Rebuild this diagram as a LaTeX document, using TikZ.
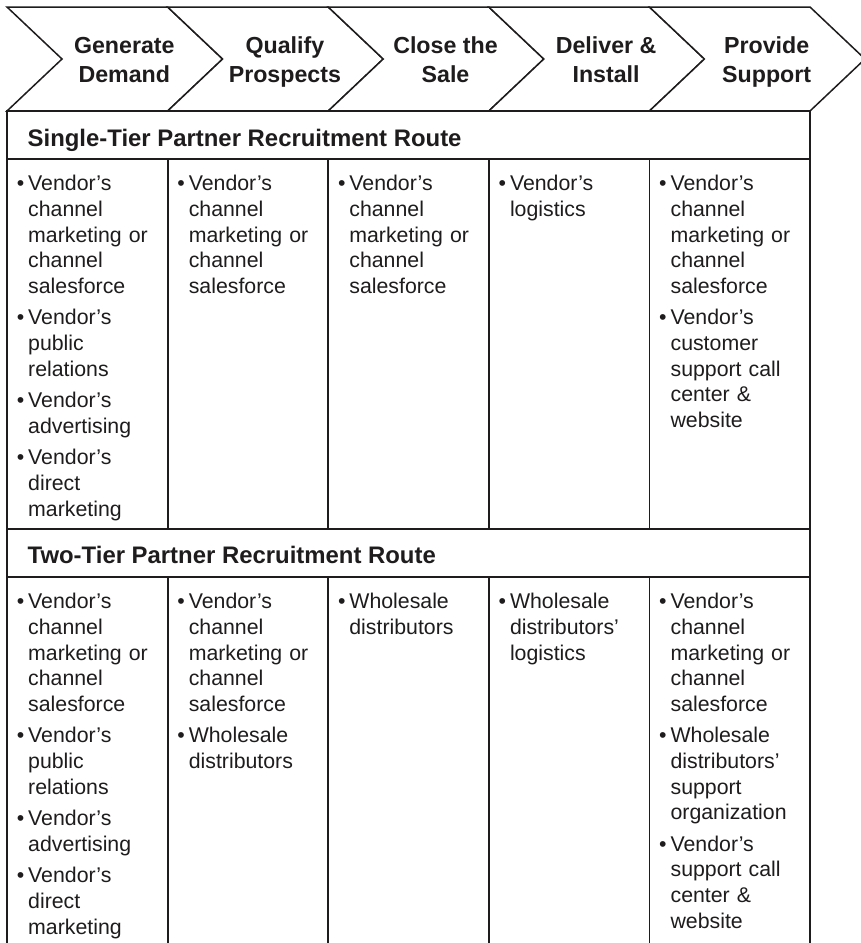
\documentclass[tikz,border=0pt]{standalone}
\usepackage{fontspec}
\setmainfont{Liberation Sans}
\definecolor{ink}{RGB}{30,28,29}

% bullet items: hanging indent, forced line breaks with \newline
\newcommand\itemline{\hangindent=11.4pt\hangafter=1\makebox[11.4pt][l]{•}\ignorespaces}
\newcommand\firstitem{\noindent\rule{0pt}{18pt}\itemline}
\newcommand\nextitem{\par\vskip6pt\noindent\itemline}
\newcommand\closeitems{\par}

\begin{document}
\begin{tikzpicture}[x=1pt,y=-1pt,
  chev/.style={draw=ink, line width=1.5pt, line join=miter, fill=white},
  grid/.style={draw=ink, line width=1.8pt},
  stagelabel/.style={anchor=north, inner sep=0pt, align=center, text=ink,
    font=\bfseries\fontsize{23.2}{29}\selectfont},
  routehead/.style={anchor=base west, inner sep=0pt, text=ink,
    font=\bfseries\fontsize{23.9}{29}\selectfont},
  cellbox/.style={anchor=north west, inner sep=0pt, text width=148pt, align=left,
    text=ink, font=\fontsize{21.3}{25.6}\selectfont}]
\useasboundingbox (0,0) rectangle (861,943);
\fill[white] (0,0) rectangle (861,943);

% process chevrons along the top
\foreach \i/\lab in {0/{Generate\\Demand}, 1/{Qualify\\Prospects}, 2/{Close the\\Sale},
                     3/{Deliver \&\\Install}, 4/{Provide\\Support}} {
  \pgfmathsetmacro\xa{7+160.6*\i}
  \pgfmathsetmacro\xb{\xa+160.6}
  \draw[chev] (\xa,7) -- (\xb,7) -- (\xb+55,59) -- (\xb,111) -- (\xa,111) -- (\xa+55,59) -- cycle;
  \node[stagelabel] (stage\i) at (\xa+117.3,36) {\rule{0pt}{17pt}\lab};
}

% table frame
\draw[grid] (7,943) -- (7,111) -- (810,111) -- (810,943);
\draw[grid] (7,159) -- (810,159);
\draw[grid] (7,529) -- (810,529);
\draw[grid] (7,577) -- (810,577);
\foreach \i in {1,...,4} {
  \pgfmathsetmacro\xc{7+160.6*\i}
  \draw[grid] (\xc,159) -- (\xc,529);
  \draw[grid] (\xc,577) -- (\xc,943);
}

% route headings
\node[routehead] (single) at (27.5,146) {Single-Tier Partner Recruitment Route};
\node[routehead] (twotier) at (27.5,563) {Two-Tier Partner Recruitment Route};

% single-tier cells
\node[cellbox] (s1) at (16.6,172.7) {\firstitem Vendor’s\newline channel\newline marketing or\newline channel\newline salesforce
  \nextitem Vendor’s\newline public\newline relations
  \nextitem Vendor’s\newline advertising
  \nextitem Vendor’s\newline direct\newline marketing\closeitems};
\node[cellbox] (s2) at (177.2,172.7) {\firstitem Vendor’s\newline channel\newline marketing or\newline channel\newline salesforce\closeitems};
\node[cellbox] (s3) at (337.8,172.7) {\firstitem Vendor’s\newline channel\newline marketing or\newline channel\newline salesforce\closeitems};
\node[cellbox] (s4) at (498.4,172.7) {\firstitem Vendor’s\newline logistics\closeitems};
\node[cellbox] (s5) at (659.0,172.7) {\firstitem Vendor’s\newline channel\newline marketing or\newline channel\newline salesforce
  \nextitem Vendor’s\newline customer\newline support call\newline center \&\newline website\closeitems};

% two-tier cells
\node[cellbox] (t1) at (16.6,590.7) {\firstitem Vendor’s\newline channel\newline marketing or\newline channel\newline salesforce
  \nextitem Vendor’s\newline public\newline relations
  \nextitem Vendor’s\newline advertising
  \nextitem Vendor’s\newline direct\newline marketing\closeitems};
\node[cellbox] (t2) at (177.2,590.7) {\firstitem Vendor’s\newline channel\newline marketing or\newline channel\newline salesforce
  \nextitem Wholesale\newline distributors\closeitems};
\node[cellbox] (t3) at (337.8,590.7) {\firstitem Wholesale\newline distributors\closeitems};
\node[cellbox] (t4) at (498.4,590.7) {\firstitem Wholesale\newline distributors’\newline logistics\closeitems};
\node[cellbox] (t5) at (659.0,590.7) {\firstitem Vendor’s\newline channel\newline marketing or\newline channel\newline salesforce
  \nextitem Wholesale\newline distributors’\newline support\newline organization
  \nextitem Vendor’s\newline support call\newline center \&\newline website\closeitems};
\end{tikzpicture}
\end{document}
